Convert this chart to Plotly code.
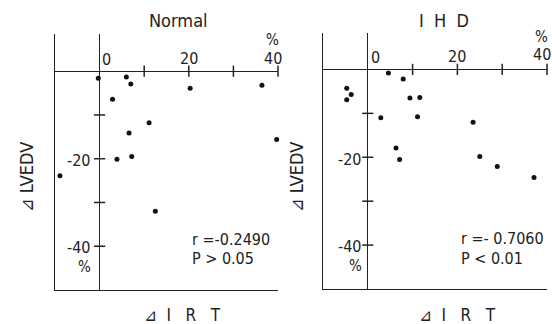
import plotly.graph_objects as go

# ---- data (percent change) ----
normal_irt = [-14.7, -0.3, 6.0, 7.0, 20.3, 36.4, 2.9, 11.1, 6.6, 3.9, 7.2, 39.7, -8.9, 12.5, 44.8]
normal_lvedv = [-3.3, -1.6, -1.3, -2.9, -3.9, -3.2, -6.4, -11.8, -14.1, -20.1, -19.5, -15.6, -23.9, -32.0, -35.5]

ihd_irt = [4.6, 7.9, -4.7, -3.7, -4.7, 9.4, 11.6, 2.9, 11.1, 23.5, 6.3, 7.1, 25.0, 28.9, 37.1]
ihd_lvedv = [-0.8, -2.2, -4.3, -5.7, -6.9, -6.5, -6.4, -11.0, -10.8, -12.0, -17.9, -20.5, -19.8, -22.1, -24.6]

x_ticks = [10, 20, 30, 40]
y_ticks = [-10, -20, -30, -40]
x_ticklabels = {0: "0", 20: "20", 40: "40"}
y_ticklabels = {-20: "-20", -40: "-40"}

panel_titles = ["Normal", "I  H  D"]
stats = [("r =-0.2490", "P > 0.05"), ("r =- 0.7060", "P < 0.01")]
x_title = "⊿  I   R   T"
y_title = "⊿ LVEDV"

FONT = "DejaVu Sans Condensed, Liberation Sans Narrow, DejaVu Sans, sans-serif"
INK = "#222222"
W, H = 552, 324

fig = go.Figure()

panels = [
    dict(x=normal_irt, y=normal_lvedv, xa="x", ya="y"),
    dict(x=ihd_irt, y=ihd_lvedv, xa="x2", ya="y2"),
]

for p in panels:
    fig.add_trace(go.Scatter(
        x=p["x"], y=p["y"], xaxis=p["xa"], yaxis=p["ya"], mode="markers",
        marker=dict(size=5, color="#111111"), cliponaxis=False, showlegend=False,
        hoverinfo="skip"))
    # tick marks on zero lines
    fig.add_trace(go.Scatter(
        x=x_ticks, y=[0] * len(x_ticks), xaxis=p["xa"], yaxis=p["ya"], mode="markers",
        marker=dict(symbol="line-ns", size=8, line=dict(width=1.5, color=INK)),
        cliponaxis=False, showlegend=False, hoverinfo="skip"))
    fig.add_trace(go.Scatter(
        x=[0] * len(y_ticks), y=y_ticks, xaxis=p["xa"], yaxis=p["ya"], mode="markers",
        marker=dict(symbol="line-ew", size=8, line=dict(width=1.5, color=INK)),
        cliponaxis=False, showlegend=False, hoverinfo="skip"))

axis_common = dict(showline=True, linecolor=INK, linewidth=1.3, ticks="",
                   showticklabels=False, showgrid=False, zeroline=True,
                   zerolinecolor=INK, zerolinewidth=1.3, fixedrange=True)

fig.update_layout(
    width=W, height=H, autosize=False,
    margin=dict(l=0, r=0, t=0, b=0),
    paper_bgcolor="white", plot_bgcolor="white",
    font=dict(family=FONT, color=INK, size=16),
    xaxis=dict(domain=[55 / W, 278 / W], range=[-10, 40], anchor="y", **axis_common),
    yaxis=dict(domain=[1 - 290 / H, 1 - 34 / H], range=[-50, 8.5], anchor="x", **axis_common),
    xaxis2=dict(domain=[323 / W, 547 / W], range=[-10, 40], anchor="y2", **axis_common),
    yaxis2=dict(domain=[1 - 289 / H, 1 - 33 / H], range=[-50, 8.3], anchor="x2", **axis_common),
)

ann = []
# per-panel label offsets
cfg = [
    dict(xr="x", yr="y", lab_y={0: 2.6, 20: 2.8, 40: 3.0}, pct_y=7.2, yl_x=-1.4,
         stat_x=20.3, stat_y=(-38.4, -42.9), title_x=178 / W, ytitle_x=26 / W, xtitle_x=182 / W),
    dict(xr="x2", yr="y2", lab_y={0: 2.8, 20: 2.9, 40: 3.5}, pct_y=7.4, yl_x=-0.9,
         stat_x=20.4, stat_y=(-38.6, -43.1), title_x=444 / W, ytitle_x=296 / W, xtitle_x=457 / W),
]
for i, c in enumerate(cfg):
    for xv, txt in x_ticklabels.items():
        if xv == 0:
            ann.append(dict(x=0.2, y=c["lab_y"][0], xref=c["xr"], yref=c["yr"], text=txt,
                            xanchor="left", yanchor="middle", showarrow=False))
        else:
            ann.append(dict(x=xv - 1.2 if xv == 40 else xv, y=c["lab_y"][xv], xref=c["xr"], yref=c["yr"],
                            text=txt, xanchor="center", yanchor="middle", showarrow=False))
    ann.append(dict(x=38.8, y=c["pct_y"], xref=c["xr"], yref=c["yr"], text="%",
                    xanchor="center", yanchor="middle", showarrow=False, font=dict(size=15)))
    for yv, txt in y_ticklabels.items():
        ann.append(dict(x=c["yl_x"], y=yv - 0.4, xref=c["xr"], yref=c["yr"], text=txt,
                        xanchor="right", yanchor="middle", showarrow=False))
    ann.append(dict(x=c["yl_x"], y=-44.8, xref=c["xr"], yref=c["yr"], text="%",
                    xanchor="right", yanchor="middle", showarrow=False, font=dict(size=15)))
    for line, yv in zip(stats[i], c["stat_y"]):
        ann.append(dict(x=c["stat_x"], y=yv, xref=c["xr"], yref=c["yr"], text=line,
                        xanchor="left", yanchor="middle", showarrow=False, font=dict(size=16)))
    ann.append(dict(x=c["title_x"], y=1 - 21 / H, xref="paper", yref="paper", text=panel_titles[i],
                    xanchor="center", yanchor="middle", showarrow=False, font=dict(size=18)))
    ann.append(dict(x=c["ytitle_x"], y=1 - 177 / H, xref="paper", yref="paper", text=y_title,
                    textangle=-90, xanchor="center", yanchor="middle", showarrow=False, font=dict(size=18)))
    ann.append(dict(x=c["xtitle_x"], y=1 - 315 / H, xref="paper", yref="paper", text=x_title,
                    xanchor="center", yanchor="middle", showarrow=False, font=dict(size=17)))

fig.update_layout(annotations=ann)
fig.write_html("out.html", config={"displayModeBar": False},
               post_script="document.body.style.margin='0';")
